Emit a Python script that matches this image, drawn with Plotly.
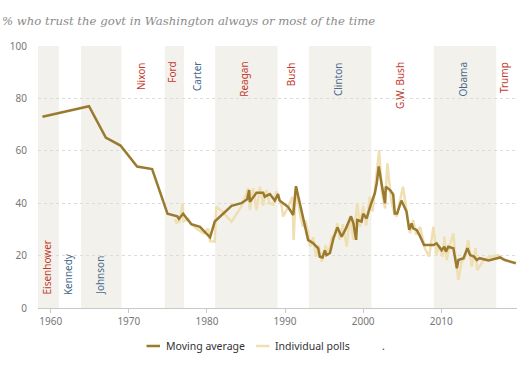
import plotly.graph_objects as go

# Moving average (fractional year, percent)
ma_year = [1958.94, 1964.9, 1967.05, 1968.93, 1971.06, 1972.98, 1974.95, 1976.2, 1976.4, 1976.95,
           1978.0, 1979.1, 1980.4, 1981.0, 1983.15, 1984.4, 1985.15, 1985.4, 1985.5, 1986.35,
           1987.2, 1987.4, 1988.05, 1988.7, 1989.1, 1989.3, 1990.4, 1991.05, 1991.4, 1992.95,
           1993.6, 1994.25, 1994.45, 1994.8, 1995.1, 1995.3, 1995.75, 1996.2, 1996.7, 1997.25,
           1997.8, 1998.45, 1998.75, 1999.1, 1999.25, 1999.8, 2000.0, 2000.45, 2000.95, 2001.5,
           2001.75, 2002.0, 2002.35, 2002.8, 2002.9, 2003.45, 2003.85, 2004.05, 2004.35, 2004.9,
           2005.55, 2005.9, 2006.2, 2006.4, 2006.85, 2007.2, 2007.8, 2009.0, 2009.4, 2010.05,
           2010.4, 2010.6, 2010.9, 2011.55, 2012.0, 2012.2, 2012.85, 2013.35, 2013.7, 2014.2,
           2014.55, 2014.9, 2016.05, 2017.55, 2018.15, 2019.55]
ma_value = [73, 77, 65, 62, 54, 53, 36, 35, 34, 36,
            32, 31, 27, 33, 39, 40, 41.5, 45, 40.5, 44,
            44, 42.5, 43.5, 41, 43.5, 41, 38.5, 35.5, 46.5, 26,
            24.7, 22.8, 19.6, 19.3, 22, 20.2, 21, 26.6, 30.8, 27.2,
            30.4, 35, 32.3, 26, 33.6, 33, 36, 34.2, 39.3, 43.8,
            47.8, 54, 47.6, 40, 46.3, 45, 43.3, 36.1, 36.1, 41,
            36.8, 29.8, 32.3, 30.4, 29.8, 27.9, 24, 24, 24.7, 22.1,
            23.4, 21.5, 23.4, 22.8, 15.2, 18.3, 19, 22.8, 20.2, 19.6,
            18.3, 19, 18.1, 19.3, 18.3, 17.1]

# Individual polls
poll_year = [1975.9, 1976.1, 1976.5, 1976.9, 1977.0, 1977.6, 1978.0, 1978.8, 1979.6, 1980.15,
             1980.4, 1981.0, 1981.2, 1982.0, 1983.15, 1984.4, 1985.3, 1985.5, 1985.9, 1986.35,
             1986.8, 1987.2, 1987.6, 1988.0, 1988.5, 1988.9, 1989.55, 1989.75, 1990.3, 1990.95,
             1991.1, 1991.4, 1991.9, 1992.3, 1992.6, 1992.95, 1993.2, 1993.6, 1994.0, 1994.3,
             1994.7, 1995.2, 1995.5, 1996.0, 1996.4, 1996.7, 1997.0, 1997.4, 1997.9, 1998.3,
             1998.75, 1999.25, 1999.6, 2000.0, 2000.4, 2000.85, 2001.2, 2001.7, 2002.05, 2002.4,
             2002.8, 2003.1, 2003.6, 2004.0, 2004.3, 2005.1, 2005.5, 2006.0, 2006.4, 2006.8,
             2007.3, 2007.9, 2008.45, 2009.0, 2009.4, 2009.7, 2010.2, 2010.4, 2010.7, 2011.1,
             2011.55, 2011.8, 2012.2, 2012.6, 2013.0, 2013.45, 2013.9, 2014.4, 2014.6, 2015.5,
             2016.2, 2017.3, 2017.9]
poll_value = [34, 32.5, 33, 40, 33, 34, 32, 30, 28.5, 30.4,
              25.5, 25.3, 38.7, 36.7, 32.9, 38.7, 45.7, 37.4, 45.7, 37.4,
              46.3, 39, 45, 40, 39.5, 44.5, 39.3, 34.9, 38, 42.5,
              26, 46.3, 36, 31, 33.5, 29.1, 23.4, 27, 19.6, 24,
              17.7, 24, 20, 27, 28, 32.3, 26, 32, 23.4, 34.9,
              26, 40, 31, 39, 31.5, 42.5, 36.8, 51.4, 60.3, 44.3,
              38, 55.2, 41, 36, 34.9, 46.3, 38, 28.5, 33.6, 28,
              31, 22.8, 19.6, 31, 20.2, 24, 19.6, 27.2, 18.3, 24,
              28.5, 20, 10.7, 17.5, 19, 26, 15.8, 22.9, 14.5, 18.5,
              19.5, 20.2, 18.3]

# Presidencies
presidents = ["Eisenhower", "Kennedy", "Johnson", "Nixon", "Ford", "Carter", "Reagan",
              "Bush", "Clinton", "G.W. Bush", "Obama", "Trump"]
term_start = [1953.05, 1961.05, 1963.9, 1969.05, 1974.6, 1977.05, 1981.05, 1989.05,
              1993.05, 2001.05, 2009.05, 2017.05]
term_end = [1961.05, 1963.9, 1969.05, 1974.6, 1977.05, 1981.05, 1989.05, 1993.05,
            2001.05, 2009.05, 2017.05, 2021.05]
party = ["R", "D", "D", "R", "R", "D", "R", "R", "D", "R", "D", "R"]
shaded = [True, False, True, False, True, False, True, False, True, False, True, False]
label_bottom = [True, True, True, False, False, False, False, False, False, False, False, False]

y_ticks = [0, 20, 40, 60, 80, 100]
x_ticks = [1960, 1970, 1980, 1990, 2000, 2010]

X0, X1 = 1958.37, 2019.7
FONT = "Noto Sans"
RED = "#c3392d"
BLUE = "#46698a"
DARK = "#9a7a2f"
LIGHT = "#efdfb2"

fig = go.Figure()
fig.add_trace(go.Scatter(x=poll_year, y=poll_value, mode="lines", name="Individual polls",
                         line=dict(color=LIGHT, width=2.5), hoverinfo="skip"))
fig.add_trace(go.Scatter(x=ma_year, y=ma_value, mode="lines", name="Moving average",
                         line=dict(color=DARK, width=2.5), hoverinfo="skip"))

shapes = []
annotations = []
for name, s, e, p, sh, bot in zip(presidents, term_start, term_end, party, shaded, label_bottom):
    s2, e2 = max(s, X0), min(e, X1)
    if sh:
        shapes.append(dict(type="rect", xref="x", yref="y", x0=s2, x1=e2, y0=0, y1=100,
                           fillcolor="#f3f1ec", line=dict(width=0), layer="below"))
    mid = (s2 + e2) / 2 - 0.25
    annotations.append(dict(x=mid, y=4.2 if bot else 94.7, xref="x", yref="y",
                            text=name, showarrow=False, textangle=-90,
                            xanchor="center", yanchor="bottom" if bot else "top",
                            font=dict(family=FONT, size=10, color=RED if p == "R" else BLUE)))

# custom legend
def px2paper_x(px):
    return (px - 38) / 479.0

def px2paper_y(py):
    return (308 - py) / 262.0

ly = px2paper_y(346)
shapes.append(dict(type="line", xref="paper", yref="paper", x0=px2paper_x(146.5), x1=px2paper_x(160),
                   y0=ly, y1=ly, line=dict(color=DARK, width=2.5)))
shapes.append(dict(type="line", xref="paper", yref="paper", x0=px2paper_x(256), x1=px2paper_x(269.5),
                   y0=ly, y1=ly, line=dict(color=LIGHT, width=2.5)))
for txt, px in [("Moving average", 164), ("Individual polls", 273), (".", 380)]:
    annotations.append(dict(x=px2paper_x(px), y=ly, xref="paper", yref="paper", text=txt,
                            showarrow=False, xanchor="left", yanchor="middle",
                            font=dict(family=FONT, size=10.5, color="#333")))

fig.update_layout(
    width=525, height=372,
    margin=dict(l=38, r=8, t=46, b=64),
    paper_bgcolor="white", plot_bgcolor="white",
    showlegend=False,
    title=dict(text="<i>% who trust the govt in Washington always or most of the time</i>",
               x=2 / 525, xanchor="left", y=1 - 21 / 372, yanchor="middle",
               font=dict(family="DejaVu Serif", size=11.7, color="#8a8a8a")),
    xaxis=dict(range=[X0, X1], tickvals=x_ticks, ticktext=[str(t) for t in x_ticks],
               showgrid=False, zeroline=False, showline=True, linecolor="#c8c8c8", linewidth=1,
               ticks="outside", ticklen=4, tickcolor="#c8c8c8",
               tickfont=dict(family=FONT, size=10, color="#777")),
    yaxis=dict(range=[0, 100], tickvals=y_ticks, showgrid=True, gridcolor="#dcdcdc",
               griddash="dot", gridwidth=1, zeroline=False, showline=False,
               ticklabelstandoff=10,
               tickfont=dict(family=FONT, size=10, color="#777")),
    shapes=shapes,
    annotations=annotations,
)

fig.write_html("out.html", config={"displayModeBar": False},
               post_script="document.body.style.margin='0';document.body.style.overflow='hidden';")
